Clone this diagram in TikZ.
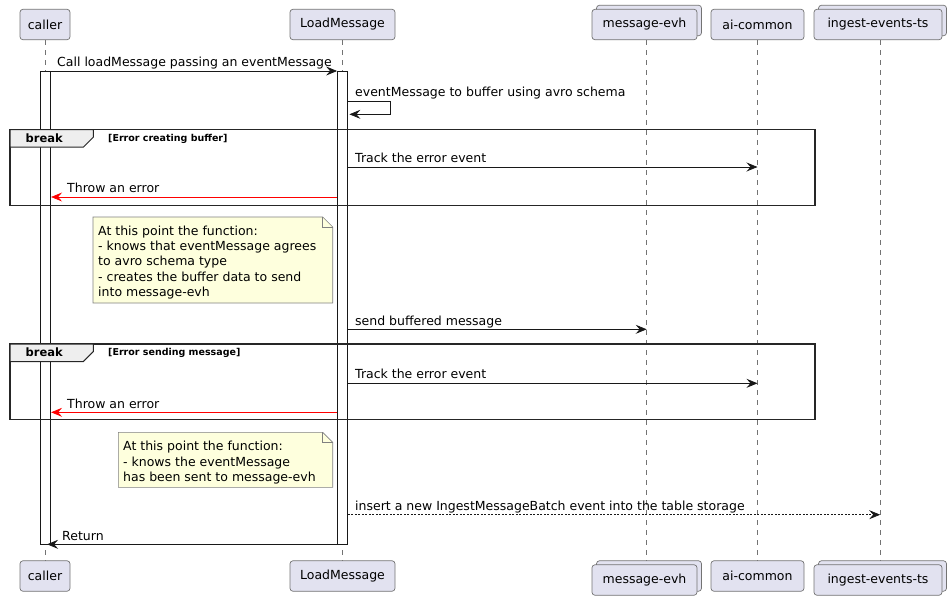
\documentclass[tikz,border=0pt]{standalone}
\usepackage{xcolor}
\usepackage{fontspec}
\setmainfont{DejaVu Sans}
\usepackage{tikz}
\usetikzlibrary{arrows.meta, calc}
\definecolor{partfill}{HTML}{E2E2F0}
\definecolor{notefill}{HTML}{FEFFDD}
\definecolor{tabfill}{HTML}{EEEEEE}
\definecolor{linegray}{HTML}{181818}

\begin{document}
\begin{tikzpicture}[x=1pt,y=-1pt,
every node/.style={font=\fontsize{12.5}{15.3}\selectfont, inner sep=0pt},
participant/.style={draw=black!55, fill=partfill, rounded corners=3pt, line width=0.7pt, minimum height=30.5pt, inner xsep=4pt},
lifeline/.style={draw=black!55, line width=0.6pt, dash pattern=on 5pt off 5pt},
activation/.style={draw=linegray, fill=white, line width=0.8pt, minimum width=10pt},
msg/.style={draw=linegray, line width=0.75pt, -{Stealth[length=11pt,width=9pt,inset=4pt]}},
errmsg/.style={msg, draw=red, color=red},
dotmsg/.style={msg, dash pattern=on 2pt off 1.5pt},
msgtext/.style={anchor=base west},
frameline/.style={draw=black!85, line width=1.5pt},
tab/.style={draw=black!85, line width=1pt, fill=tabfill},
cond/.style={anchor=base west, font=\fontsize{9.5}{11}\selectfont\bfseries},
note/.style={fill=notefill, draw=black!50, line width=0.6pt},
notetext/.style={anchor=north west, align=left}]
\useasboundingbox (0,0) rectangle (951,600);

% Let us start with the participants and their lifelines:
\foreach \n/\x/\w/\t in {caller/45/50/caller, load/342.5/105/LoadMessage, aic/757.5/93/ai-common}
{
\coordinate (\n-top) at (\x,40);
\coordinate (\n-bot) at (\x,561);
\draw[lifeline] (\n-top) -- (\n-bot);
\node[participant, minimum width=\w pt] (\n) at (\x,24.5) {\t};
\node[participant, minimum width=\w pt] (\n-b) at (\x,576) {\t};
}
\foreach \n/\x/\w/\t in {evh/644.5/105/message-evh, ingest/878/128/ingest-events-ts}
{
\coordinate (\n-top) at (\x+2.2,40);
\coordinate (\n-bot) at (\x+2.2,561);
\draw[lifeline] (\n-top) -- (\n-bot);
\node[participant, minimum width=\w pt] (\n-s) at (\x+4.5,20.5) {\phantom{\t}};
\node[participant, minimum width=\w pt] (\n) at (\x,24.5) {\t};
\node[participant, minimum width=\w pt] (\n-bs) at (\x+4.5,576) {\phantom{\t}};
\node[participant, minimum width=\w pt] (\n-b) at (\x,580) {\t};
}

% activations
\node[activation, minimum height=473.3pt, anchor=north] (callact) at (45.7,71) {};
\node[activation, minimum height=473.3pt, anchor=north] (lmact) at (342.5,71) {};

% break frames
\foreach \f/\y/\c in {1/129.7/Error creating buffer, 2/344/Error sending message}
{
\draw[frameline] (10,\y) rectangle (815,\y+75.6);
\filldraw[tab] (10,\y) -- (93.3,\y) -- (93.3,\y+7.5) -- (83.3,\y+17.5) -- (10,\y+17.5) -- cycle;
\node[anchor=base, font=\fontsize{11.5}{13}\selectfont\bfseries] (break \f) at (44.3,\y+12.6) {break};
\node[cond] (cond \f) at (108,\y+11.5) {[\c]};
}

% notes
\filldraw[note] (93,217) -- (322.7,217) -- (332.7,227) -- (332.7,303) -- (93,303) -- cycle;
\draw[note, fill=none] (322.7,217) -- (322.7,227) -- (332.7,227);
\node[notetext] (note 1) at (98,225.5) {At this point the function:\\- knows that eventMessage agrees\\to avro schema type\\- creates the buffer data to send\\into message-evh};
\filldraw[note] (118.3,432.3) -- (322.7,432.3) -- (332.7,442.3) -- (332.7,487.3) -- (118.3,487.3) -- cycle;
\draw[note, fill=none] (322.7,432.3) -- (322.7,442.3) -- (332.7,442.3);
\node[notetext] (note 2) at (123,441) {At this point the function:\\- knows the eventMessage\\has been sent to message-evh};

% message rows
\foreach \r/\y in {1/71, 2/101.7, 3/114.3, 4/167, 5/197, 6/329.3, 7/383.3, 8/412.3, 9/514.7, 10/544.3}
\coordinate (row\r) at (0,\y);

\draw[msg] (callact.east |- row1) -- (lmact.west |- row1);
\node[msgtext] (call) at (57,66.5) {Call loadMessage passing an eventMessage};
\draw[msg] (lmact.east |- row2) -- ++(42,0) |- ([xshift=1.5pt]lmact.east |- row3);
\node[msgtext] (buffer) at (355,96) {eventMessage to buffer using avro schema};
\draw[msg] (lmact.east |- row4) -- (aic-top |- row4);
\node[msgtext] (track 1) at (355,162.5) {Track the error event};
\draw[errmsg] (lmact.west |- row5) -- (callact.east |- row5);
\node[msgtext] (throw 1) at (67,192.5) {Throw an error};
\draw[msg] (lmact.east |- row6) -- (evh-top |- row6);
\node[msgtext] (send) at (355,325) {send buffered message};
\draw[msg] (lmact.east |- row7) -- (aic-top |- row7);
\node[msgtext] (track 2) at (355,378.8) {Track the error event};
\draw[errmsg] (lmact.west |- row8) -- (callact.east |- row8);
\node[msgtext] (throw 2) at (67,408) {Throw an error};
\draw[dotmsg] (lmact.east |- row9) -- (ingest-top |- row9);
\node[msgtext] (insert) at (355,510) {insert a new IngestMessageBatch event into the table storage};
\draw[msg] (lmact.west |- row10) -- ([xshift=-4pt]callact.east |- row10);
\node[msgtext] (return) at (62,540) {Return};
\end{tikzpicture}
\end{document}
